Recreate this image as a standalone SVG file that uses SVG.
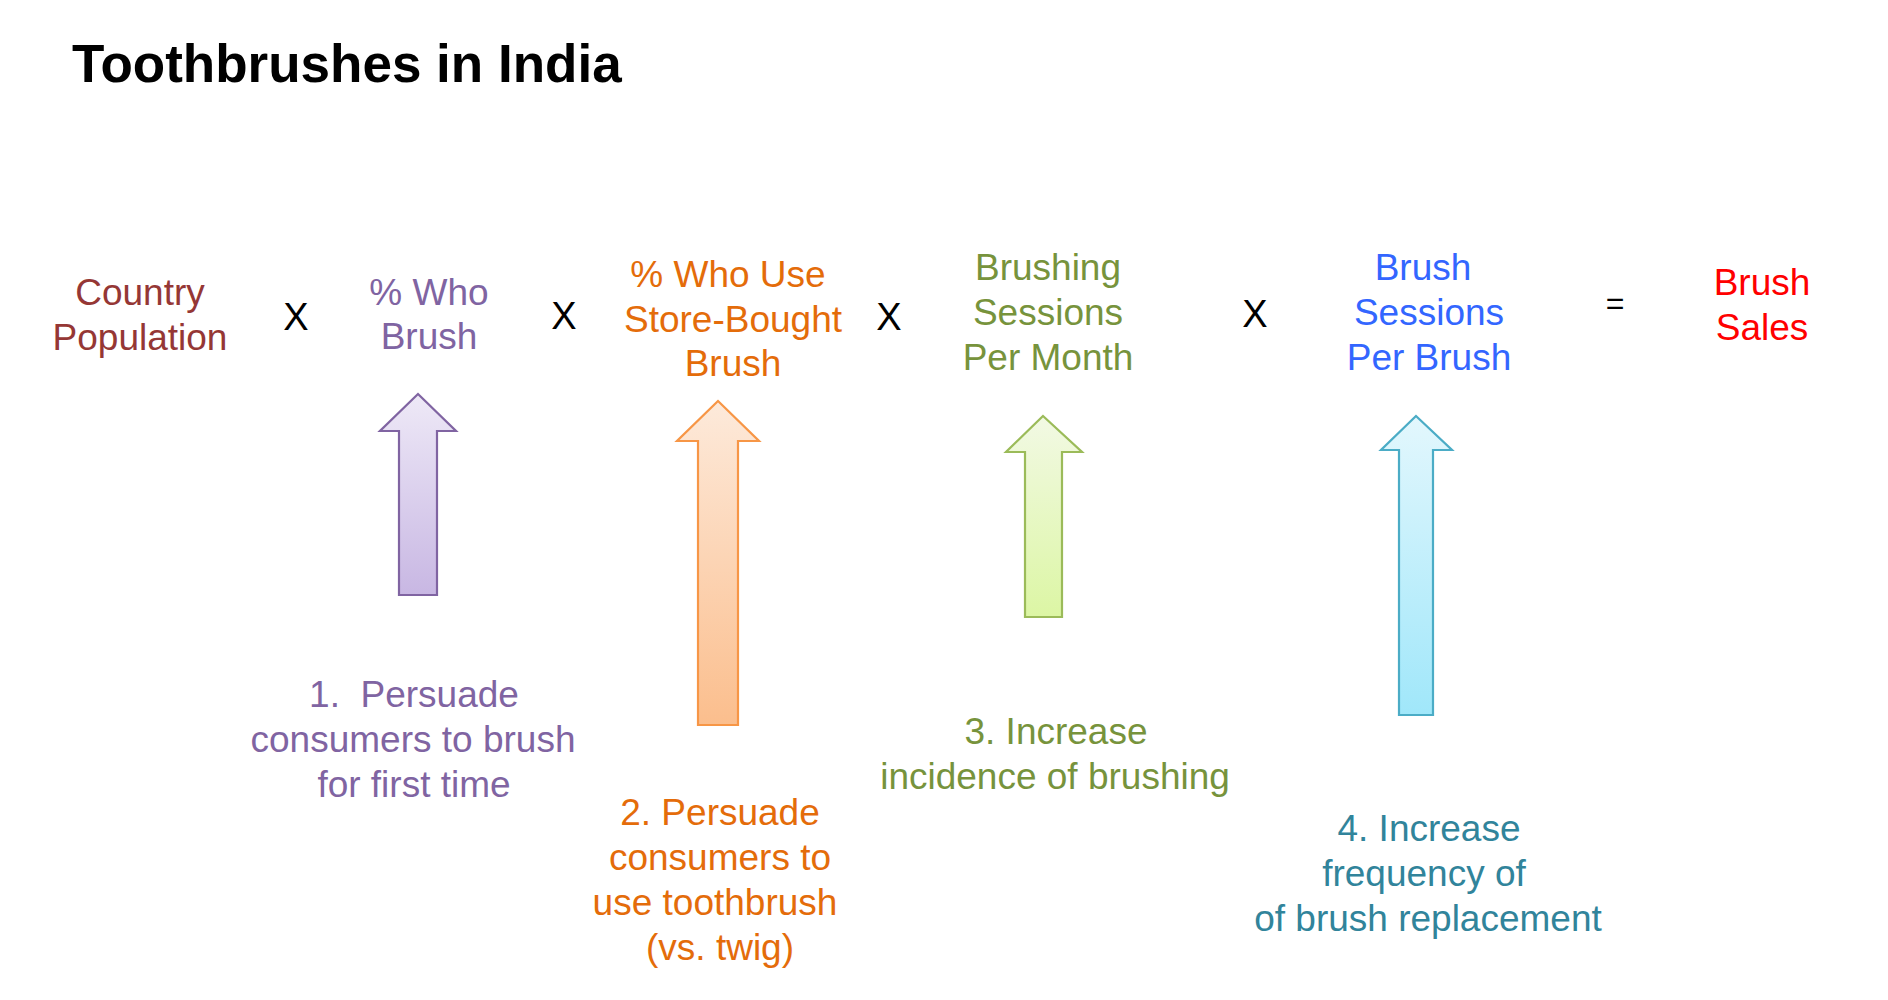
<svg xmlns="http://www.w3.org/2000/svg" width="1888" height="1000" viewBox="0 0 1888 1000">
<style>
text{font-family:"Liberation Sans",Arial,sans-serif;font-size:37px;text-anchor:middle}
.title{font-size:53px;font-weight:bold;text-anchor:start;fill:#000}
.op{font-size:38px;fill:#000}
.eq{font-size:32px;fill:#000}
.c1{fill:#953735}.c2{fill:#8064A2}.c3{fill:#E46C0A}.c4{fill:#77933C}.c5{fill:#3366FF}.c6{fill:#FF0000}.c7{fill:#31849B}
.arr{stroke-width:2.2;stroke-linejoin:miter}
</style>
<defs>
<linearGradient id="gP" x1="0" y1="0" x2="0" y2="1"><stop offset="0" stop-color="#EEE9F7"/><stop offset="1" stop-color="#C8B7E3"/></linearGradient>
<linearGradient id="gO" x1="0" y1="0" x2="0" y2="1"><stop offset="0" stop-color="#FDEADB"/><stop offset="1" stop-color="#FBBE8D"/></linearGradient>
<linearGradient id="gG" x1="0" y1="0" x2="0" y2="1"><stop offset="0" stop-color="#F2F9E4"/><stop offset="1" stop-color="#DCF6A4"/></linearGradient>
<linearGradient id="gB" x1="0" y1="0" x2="0" y2="1"><stop offset="0" stop-color="#E3F7FD"/><stop offset="1" stop-color="#A0E7FA"/></linearGradient>
</defs>
<rect width="1888" height="1000" fill="#fff"/>
<text class="title" x="72" y="82">Toothbrushes in India</text>

<g id="country-population"><text class="c1" x="140" y="305">Country</text><text class="c1" x="140" y="350">Population</text></g>
<g id="op1"><text class="op" x="296" y="330">X</text></g>
<g id="who-brush"><text class="c2" x="429" y="305">% Who</text><text class="c2" x="429" y="349">Brush</text></g>
<g id="op2"><text class="op" x="564" y="329">X</text></g>
<g id="store-bought"><text class="c3" x="728" y="287">% Who Use</text><text class="c3" x="733" y="332">Store-Bought</text><text class="c3" x="733" y="376">Brush</text></g>
<g id="op3"><text class="op" x="889" y="330">X</text></g>
<g id="sessions-month"><text class="c4" x="1048" y="280">Brushing</text><text class="c4" x="1048" y="325">Sessions</text><text class="c4" x="1048" y="370">Per Month</text></g>
<g id="op4"><text class="op" x="1255" y="327">X</text></g>
<g id="sessions-brush"><text class="c5" x="1423" y="280">Brush</text><text class="c5" x="1429" y="325">Sessions</text><text class="c5" x="1429" y="370">Per Brush</text></g>
<g id="op5"><text class="eq" x="1615" y="314">=</text></g>
<g id="brush-sales"><text class="c6" x="1762" y="295">Brush</text><text class="c6" x="1762" y="340">Sales</text></g>

<g id="lever1"><text class="c2" x="414" y="707" xml:space="preserve">1.  Persuade</text><text class="c2" x="413" y="752">consumers to brush</text><text class="c2" x="414" y="797">for first time</text></g>
<g id="lever2"><text class="c3" x="720" y="825">2. Persuade</text><text class="c3" x="720" y="870">consumers to</text><text class="c3" x="715" y="915">use toothbrush</text><text class="c3" x="720" y="960">(vs. twig)</text></g>
<g id="lever3"><text class="c4" x="1056" y="744">3. Increase</text><text class="c4" x="1055" y="789">incidence of brushing</text></g>
<g id="lever4"><text class="c7" x="1429" y="841">4. Increase</text><text class="c7" x="1424" y="886">frequency of</text><text class="c7" x="1428" y="931">of brush replacement</text></g>

<g id="connectors">
<path class="arr" fill="url(#gP)" stroke="#8064A2" d="M418,394 L456,431 L437,431 L437,595 L399,595 L399,431 L380,431 Z"/>
<path class="arr" fill="url(#gO)" stroke="#F79646" d="M718,401 L759,441 L738,441 L738,725 L698,725 L698,441 L677,441 Z"/>
<path class="arr" fill="url(#gG)" stroke="#9BBB59" d="M1043,416 L1082,452 L1062,452 L1062,617 L1025,617 L1025,452 L1006,452 Z"/>
<path class="arr" fill="url(#gB)" stroke="#4BACC6" d="M1416,416 L1452,450 L1433,450 L1433,715 L1399,715 L1399,450 L1381,450 Z"/>
</g>
</svg>
